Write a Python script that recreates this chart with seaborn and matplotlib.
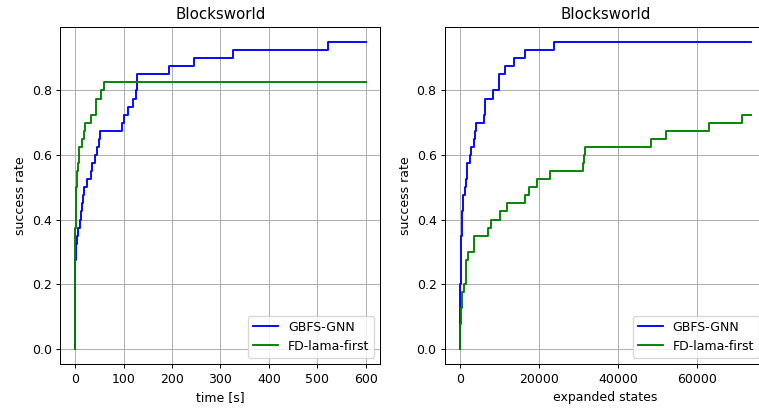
import matplotlib
matplotlib.use("Agg")
import matplotlib.pyplot as plt
import seaborn as sns

# Solve curves for Blocksworld: each entry is the point where the success
# rate steps up to the given value (steps-post), the last entry closes the run.
gnn_time = [0, 0.1, 0.15, 0.2, 0.25, 0.3, 0.35, 0.4, 0.5, 0.6, 0.7, 0.9, 1.2,
            2.5, 4, 6, 11, 12, 14, 16, 18, 25, 32, 36, 41, 46, 50, 51,
            97, 101, 110, 120, 126, 127, 128.6, 194, 246, 326, 521, 600]
gnn_time_rate = [0, 0.025, 0.05, 0.075, 0.1, 0.125, 0.15, 0.175, 0.2, 0.225, 0.25, 0.275, 0.3,
                 0.325, 0.35, 0.375, 0.4, 0.425, 0.45, 0.475, 0.5, 0.525, 0.55, 0.575, 0.6, 0.625, 0.65, 0.675,
                 0.7, 0.725, 0.75, 0.775, 0.8, 0.825, 0.85, 0.875, 0.9, 0.925, 0.95, 0.95]

lama_time = [0, 0.05, 0.1, 0.15, 0.2, 0.25, 0.3, 0.35, 0.4, 0.45, 0.5, 0.55, 0.6, 0.65, 0.7, 0.75,
             1.0, 1.2, 2, 3, 4, 5, 6, 8, 9, 15, 19, 20, 32, 43, 44, 54, 60.6, 600]
lama_time_rate = [0, 0.025, 0.05, 0.075, 0.1, 0.125, 0.15, 0.175, 0.2, 0.225, 0.25, 0.275, 0.3, 0.325, 0.35, 0.375,
                  0.425, 0.45, 0.475, 0.5, 0.525, 0.55, 0.575, 0.6, 0.625, 0.65, 0.675, 0.7, 0.725, 0.75, 0.775,
                  0.8, 0.825, 0.825]

gnn_states = [0, 20, 40, 60, 80, 100, 120, 140, 160, 190, 220, 260, 300, 340, 390, 440, 520, 620, 700, 800,
              1300, 1500, 1700, 1900, 2500, 2700, 3600, 3900, 4100, 6200, 6300, 6400, 8400, 9800, 9900,
              11400, 13700, 16500, 23800, 73500]
gnn_states_rate = [0, 0.025, 0.05, 0.075, 0.1, 0.125, 0.15, 0.175, 0.2, 0.225, 0.25, 0.275, 0.3, 0.325, 0.35,
                   0.375, 0.4, 0.425, 0.45, 0.475, 0.5, 0.525, 0.55, 0.575, 0.6, 0.625, 0.65, 0.675, 0.7,
                   0.725, 0.75, 0.775, 0.8, 0.825, 0.85, 0.875, 0.9, 0.925, 0.95, 0.95]

lama_states = [0, 50, 100, 150, 250, 330, 420, 500, 1150, 1550, 1600, 1650, 2100, 3500, 3550, 7000, 7800,
               10100, 11800, 16500, 17500, 19600, 22700, 31200, 31400, 31500, 48200, 52000, 62900, 71300, 73500]
lama_states_rate = [0, 0.025, 0.05, 0.075, 0.1, 0.125, 0.15, 0.175, 0.2, 0.225, 0.25, 0.275, 0.3, 0.325, 0.35,
                    0.375, 0.4, 0.425, 0.45, 0.475, 0.5, 0.525, 0.55, 0.575, 0.6, 0.625, 0.65, 0.675, 0.7,
                    0.725, 0.725]

planners = ["GBFS-GNN", "FD-lama-first"]
colors = ["blue", "green"]

DPI = 90
fig = plt.figure(figsize=(759 / DPI, 409 / DPI), dpi=DPI)
ax_time = fig.add_axes([0.0797, 0.110, 0.4216, 0.8247])
ax_states = fig.add_axes([0.5867, 0.110, 0.4216, 0.8247])

panels = [
    (ax_time, [(gnn_time, gnn_time_rate), (lama_time, lama_time_rate)], "time [s]"),
    (ax_states, [(gnn_states, gnn_states_rate), (lama_states, lama_states_rate)], "expanded states"),
]

for ax, series, xlabel in panels:
    for (xs, ys), name, color in zip(series, planners, colors):
        sns.lineplot(x=xs, y=ys, ax=ax, color=color, label=name, estimator=None,
                     sort=False, drawstyle="steps-post", linewidth=1.5)
    ax.set_title("Blocksworld", fontsize=12)
    ax.set_xlabel(xlabel)
    ax.set_ylabel("success rate")
    ax.grid(True, color="#b0b0b0", linewidth=0.8)
    ax.set_yticks([0.0, 0.2, 0.4, 0.6, 0.8])
    ax.legend(loc="lower right")

ax_time.set_xticks([0, 100, 200, 300, 400, 500, 600])
ax_states.set_xticks([0, 20000, 40000, 60000])

fig.savefig("out.png", dpi=DPI)
